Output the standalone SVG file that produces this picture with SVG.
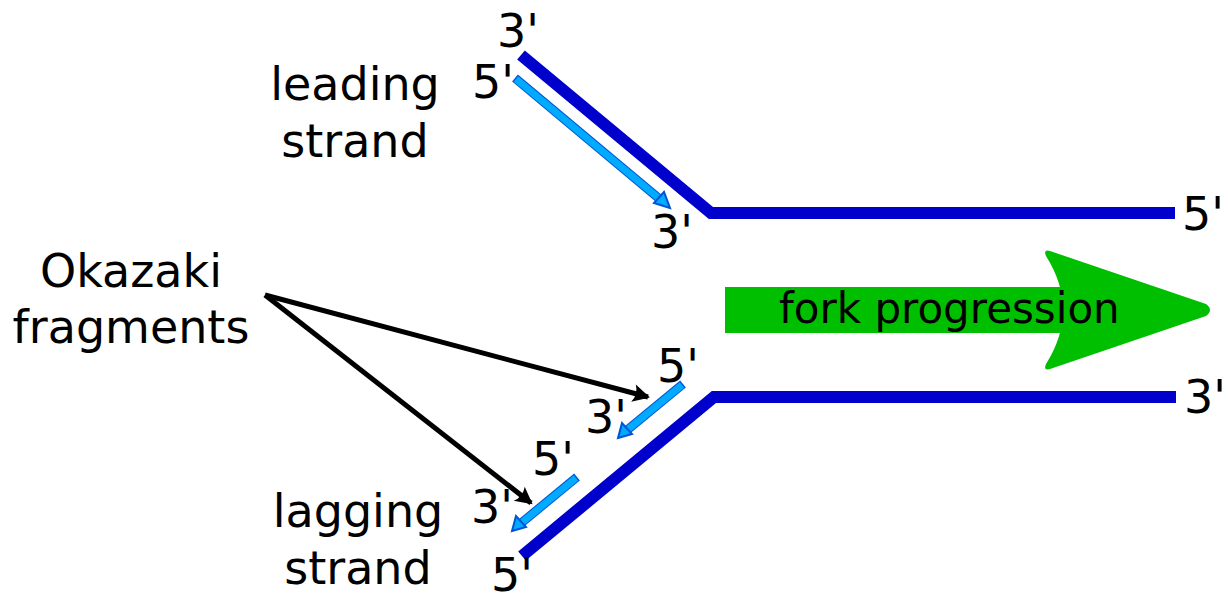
<svg xmlns="http://www.w3.org/2000/svg" width="1228" height="599" viewBox="0 0 1228 599">
  <style>
    text { font-family: "DejaVu Sans", "Liberation Sans", sans-serif; font-size: 46px; fill: #000; }
    .mid { text-anchor: middle; }
    .strand { fill: none; stroke: #0000cc; stroke-width: 12; stroke-linejoin: miter; }
    .frag-edge { stroke: #0055d4; stroke-width: 9; stroke-linecap: butt; }
    .frag-core { stroke: #00aaff; stroke-width: 7; stroke-linecap: butt; }
    .frag-head { fill: #00aaff; stroke: #0055d4; stroke-width: 2; stroke-linejoin: miter; }
    .pointer { fill: none; stroke: #000; stroke-width: 5; }
  </style>
  <defs>
    <marker id="barb" viewBox="-20 -10 24 20" refX="0" refY="0" markerWidth="24" markerHeight="20" markerUnits="userSpaceOnUse" orient="auto">
      <path d="M 2 0 L -15 -9 Q -10 0 -15 9 Z" fill="#000"/>
    </marker>
  </defs>

  <rect width="1228" height="599" fill="#fff"/>

  <!-- parental DNA strands -->
  <g id="leading-template">
    <polyline class="strand" points="521,55 711,213 1175,213"/>
  </g>
  <g id="lagging-template">
    <polyline class="strand" points="522,556 714,397 1176,397"/>
  </g>

  <!-- newly synthesised leading strand -->
  <g id="leading-new">
    <line class="frag-edge" x1="515" y1="78" x2="662" y2="201"/>
    <line class="frag-core" x1="516" y1="79" x2="662" y2="201"/>
    <polygon class="frag-head" points="670,208 654,203 664,192"/>
  </g>

  <!-- Okazaki fragments on the lagging strand -->
  <g id="okazaki-1">
    <line class="frag-edge" x1="683" y1="384" x2="626" y2="431"/>
    <line class="frag-core" x1="682" y1="385" x2="626" y2="431"/>
    <polygon class="frag-head" points="618,438 622,423 632,434"/>
  </g>
  <g id="okazaki-2">
    <line class="frag-edge" x1="577" y1="477" x2="520" y2="524"/>
    <line class="frag-core" x1="576" y1="478" x2="520" y2="524"/>
    <polygon class="frag-head" points="512,531 516,516 526,527"/>
  </g>

  <!-- fork progression arrow -->
  <g id="fork-progression">
    <path d="M 725 287 L 1075 287 L 1075 333 L 725 333 Z" fill="#00bf00"/>
    <path d="M 1050 251 L 1206 304 Q 1214 310 1206 316 L 1050 369 Q 1043 371 1046 364 Q 1080 310 1046 256 Q 1043 249 1050 251 Z" fill="#00bf00"/>
    <text x="779" y="323" style="font-size:42px">fork progression</text>
  </g>

  <!-- pointers from the Okazaki label -->
  <g id="connectors">
    <line class="pointer" x1="265" y1="295" x2="648" y2="397" marker-end="url(#barb)"/>
    <line class="pointer" x1="265" y1="295" x2="531" y2="503" marker-end="url(#barb)"/>
  </g>

  <!-- labels -->
  <g id="label-leading">
    <text class="mid" x="355" y="100">leading</text>
    <text class="mid" x="355" y="157">strand</text>
  </g>
  <g id="label-okazaki">
    <text class="mid" x="131" y="287">Okazaki</text>
    <text class="mid" x="131" y="343">fragments</text>
  </g>
  <g id="label-lagging">
    <text class="mid" x="358" y="527">lagging</text>
    <text class="mid" x="358" y="584">strand</text>
  </g>

  <!-- strand end labels -->
  <g id="ends">
    <text x="497" y="47">3'</text>
    <text x="472" y="98">5'</text>
    <text x="651" y="248">3'</text>
    <text x="1182" y="230">5'</text>
    <text x="1184" y="413">3'</text>
    <text x="657" y="382">5'</text>
    <text x="585" y="433">3'</text>
    <text x="532" y="475">5'</text>
    <text x="471" y="523">3'</text>
    <text x="491" y="591">5'</text>
  </g>
</svg>
